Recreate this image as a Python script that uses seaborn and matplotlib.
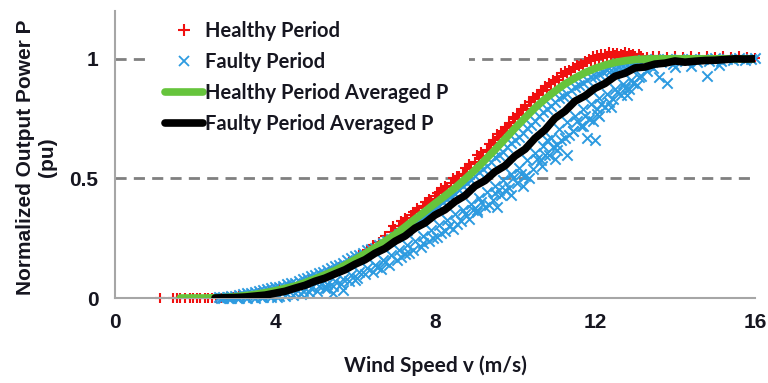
import matplotlib
matplotlib.use("Agg")
import matplotlib.pyplot as plt
from matplotlib.lines import Line2D
import seaborn as sns

sns.set_theme(style="white")
plt.rcParams["font.family"] = ["Liberation Sans", "DejaVu Sans"]

# ---------------- data ----------------
# Healthy period samples (normalised power vs wind speed)
healthy_cutin_x = [1.12, 1.45, 1.55, 1.63, 1.75, 1.88, 1.95, 2.05, 2.13, 2.25, 2.33, 2.43,
                   2.52, 2.65, 2.8, 2.95]
healthy_cutin_y = [0, 0, 0, 0, 0, 0, 0, 0, 0, 0, 0, 0, 0, 0.002, 0.003, 0.004]

healthy_low_x = [3.1, 3.35, 3.6, 3.85, 4.1, 4.35, 4.6, 4.85, 5.1, 5.35, 5.6, 5.85, 6.1, 6.3,
                 6.45, 6.6, 6.75, 6.9]
healthy_low_y = [0.008, 0.014, 0.02, 0.03, 0.038, 0.05, 0.058, 0.075, 0.09, 0.11, 0.13, 0.15,
                 0.178, 0.2, 0.22, 0.235, 0.26, 0.275]

healthy_mid_x = [7.0, 7.1, 7.2, 7.3, 7.4, 7.5, 7.6, 7.7, 7.8, 7.9,
                 8.0, 8.1, 8.2, 8.3, 8.4, 8.5, 8.6, 8.7, 8.8, 8.9,
                 9.0, 9.1, 9.2, 9.3, 9.4, 9.5, 9.6, 9.7, 9.8, 9.9,
                 10.0, 10.1, 10.2, 10.3, 10.4, 10.5, 10.6, 10.7, 10.8, 10.9,
                 11.0, 11.1, 11.2, 11.3, 11.4, 11.5, 11.6, 11.7, 11.8, 11.9,
                 12.0, 12.1, 12.2, 12.3, 12.4, 12.5, 12.6, 12.7, 12.8, 12.9]
healthy_mid_y = [0.29, 0.3, 0.318, 0.32, 0.345, 0.36, 0.365, 0.385, 0.4, 0.405,
                 0.425, 0.44, 0.445, 0.465, 0.48, 0.485, 0.51, 0.52, 0.54, 0.545,
                 0.57, 0.585, 0.595, 0.62, 0.64, 0.648, 0.675, 0.69, 0.71, 0.72,
                 0.75, 0.765, 0.785, 0.79, 0.82, 0.83, 0.85, 0.865, 0.87, 0.895,
                 0.905, 0.91, 0.93, 0.94, 0.945, 0.96, 0.97, 0.97, 0.985, 0.99,
                 0.995, 1.0, 1.005, 1.01, 1.008, 1.015, 1.01, 1.015, 1.012, 1.015]

healthy_rated_x = [13.0, 13.15, 13.3, 13.45, 13.6, 13.8, 14.0, 14.2, 14.4, 14.6, 14.8, 15.0,
                   15.2, 15.4, 15.6, 15.8, 16.0]
healthy_rated_y = [1.01, 1.012, 1.008, 1.012, 1.01, 1.008, 1.01, 1.008, 1.01, 1.008, 1.01,
                   1.008, 1.01, 1.008, 1.01, 1.008, 1.005]

healthy_high_x = [6.95, 7.25, 7.55, 7.85, 8.05, 8.25, 8.55, 8.85, 9.15, 9.45, 9.65, 9.85,
                  10.05, 10.25, 10.45, 10.65, 10.85, 11.05, 11.25, 11.45, 11.65, 11.85,
                  12.05, 12.25, 12.45, 12.65, 12.85]
healthy_high_y = [0.3, 0.335, 0.375, 0.415, 0.44, 0.47, 0.51, 0.56, 0.61, 0.66, 0.70, 0.73,
                  0.77, 0.805, 0.84, 0.87, 0.9, 0.925, 0.95, 0.965, 0.98, 1.0,
                  1.015, 1.02, 1.025, 1.02, 1.025]

healthy_top_x = [7.15, 7.45, 7.75, 8.15, 8.45, 8.75, 9.05, 9.35, 9.55, 9.75,
                 9.95, 10.15, 10.35, 10.55, 10.75, 10.95, 11.15, 11.35, 11.55, 11.75,
                 11.95, 12.15, 12.35, 12.55, 12.75, 12.95, 13.1]
healthy_top_y = [0.32, 0.36, 0.4, 0.46, 0.5, 0.545, 0.6, 0.645, 0.685, 0.715,
                 0.755, 0.79, 0.82, 0.855, 0.885, 0.91, 0.94, 0.955, 0.975, 0.99,
                 1.01, 1.02, 1.03, 1.025, 1.03, 1.02, 1.02]

# Faulty period samples
faulty_upper_x = [2.6, 2.8, 3.0, 3.2, 3.4, 3.6, 3.8, 4.0, 4.2, 4.4, 4.6, 4.8, 5.0, 5.2, 5.4,
                  5.6, 5.8, 6.0, 6.2, 6.4, 6.6, 6.8, 7.0, 7.2, 7.4, 7.6, 7.8, 8.0, 8.2, 8.4,
                  8.6, 8.8, 9.0, 9.2, 9.4, 9.6, 9.8, 10.0, 10.2, 10.4, 10.6, 10.8, 11.0, 11.2,
                  11.4, 11.6, 11.8, 12.0, 12.2, 12.4, 12.6, 12.8, 13.0]
faulty_upper_y = [0.004, 0.006, 0.01, 0.015, 0.022, 0.028, 0.036, 0.045, 0.05, 0.062, 0.07,
                  0.085, 0.098, 0.11, 0.125, 0.14, 0.158, 0.175, 0.19, 0.205, 0.22, 0.24,
                  0.255, 0.275, 0.3, 0.325, 0.35, 0.375, 0.4, 0.425, 0.45, 0.48, 0.51, 0.54,
                  0.57, 0.6, 0.63, 0.66, 0.69, 0.725, 0.76, 0.79, 0.82, 0.845, 0.87, 0.89,
                  0.91, 0.93, 0.945, 0.955, 0.965, 0.975, 0.985]

faulty_upper2_x = [2.7, 2.9, 3.1, 3.3, 3.5, 3.7, 3.9, 4.1, 4.3, 4.5,
                   4.7, 4.9, 5.1, 5.3, 5.5, 5.7, 5.9, 6.1, 6.3, 6.5,
                   6.7, 6.9, 7.1, 7.3, 7.5, 7.7, 7.9, 8.1, 8.3, 8.5,
                   8.7, 8.9, 9.1, 9.3, 9.5, 9.7, 9.9, 10.1, 10.3, 10.5,
                   10.7, 10.9, 11.1, 11.3, 11.5, 11.7, 11.9, 12.1, 12.3, 12.5,
                   12.7, 12.9, 13.1]
faulty_upper2_y = [0.005, 0.009, 0.012, 0.02, 0.024, 0.034, 0.041, 0.046, 0.058, 0.064,
                   0.08, 0.09, 0.106, 0.116, 0.135, 0.148, 0.168, 0.18, 0.2, 0.21,
                   0.232, 0.245, 0.268, 0.285, 0.315, 0.335, 0.365, 0.385, 0.415, 0.435,
                   0.468, 0.492, 0.528, 0.552, 0.588, 0.612, 0.648, 0.672, 0.71, 0.74,
                   0.778, 0.802, 0.835, 0.855, 0.882, 0.898, 0.922, 0.935, 0.952, 0.958,
                   0.972, 0.978, 0.99]

faulty_lower_x = [2.7, 2.9, 3.1, 3.3, 3.5, 3.7, 3.9, 4.1, 4.3, 4.5, 4.7, 4.9, 5.1, 5.3, 5.5,
                  5.7, 5.9, 6.1, 6.3, 6.5, 6.7, 6.9, 7.1, 7.3, 7.5, 7.7, 7.9, 8.1, 8.3, 8.5,
                  8.7, 8.9, 9.1, 9.3, 9.5, 9.7, 9.9, 10.1, 10.3, 10.5, 10.7, 10.9, 11.1, 11.3,
                  11.5, 11.7, 11.9, 12.1, 12.3, 12.5, 12.7, 12.9, 13.1]
faulty_lower_y = [0.0, 0.0, 0.0, 0.001, 0.002, 0.004, 0.006, 0.01, 0.015, 0.022, 0.03, 0.04,
                  0.05, 0.06, 0.07, 0.08, 0.095, 0.11, 0.125, 0.14, 0.16, 0.18, 0.2, 0.22,
                  0.24, 0.26, 0.285, 0.305, 0.325, 0.35, 0.37, 0.395, 0.42, 0.445, 0.47,
                  0.495, 0.52, 0.545, 0.575, 0.605, 0.635, 0.67, 0.705, 0.735, 0.76, 0.79,
                  0.81, 0.835, 0.855, 0.875, 0.895, 0.91, 0.925]

faulty_low2_x = [2.65, 2.85, 3.05, 3.25, 3.45, 3.65, 3.85, 4.05, 4.25, 4.45, 4.65, 4.85, 5.05,
                 5.25, 5.45, 5.65, 5.85, 6.05, 6.25, 6.45, 6.65, 6.85, 7.05, 7.25, 7.45, 7.65,
                 7.85, 8.05, 8.25, 8.45, 8.65, 8.85, 9.05, 9.25, 9.45, 9.65, 9.85, 10.05,
                 10.25, 10.45, 10.65, 10.85, 11.05, 11.25, 11.45, 11.65, 11.85, 12.05, 12.25,
                 12.45, 12.65, 12.85, 13.05]
faulty_low2_y = [0.0, 0.001, 0.002, 0.003, 0.005, 0.006, 0.01, 0.006, 0.008, 0.012, 0.018,
                 0.025, 0.03, 0.04, 0.05, 0.06, 0.07, 0.085, 0.1, 0.11, 0.12, 0.14, 0.16,
                 0.185, 0.2, 0.215, 0.24, 0.255, 0.28, 0.29, 0.32, 0.33, 0.36, 0.38, 0.41,
                 0.43, 0.46, 0.48, 0.51, 0.54, 0.575, 0.6, 0.64, 0.67, 0.7, 0.72, 0.75, 0.77,
                 0.8, 0.83, 0.85, 0.875, 0.89]

faulty_spread_x = [6.55, 6.75, 7.15, 7.35, 7.7, 7.95, 8.15, 8.35, 8.55, 8.75,
                   8.95, 9.15, 9.35, 9.5, 9.75, 9.95, 10.15, 10.35, 10.55, 10.75,
                   10.95, 11.15, 11.35, 11.55, 11.75, 11.95, 12.15, 12.35, 12.55, 12.75,
                   12.95, 13.15]
faulty_spread_y = [0.13, 0.15, 0.17, 0.19, 0.23, 0.25, 0.27, 0.3, 0.31, 0.35,
                   0.37, 0.4, 0.39, 0.44, 0.45, 0.5, 0.52, 0.5, 0.58, 0.6,
                   0.63, 0.66, 0.68, 0.74, 0.76, 0.74, 0.81, 0.82, 0.86, 0.88,
                   0.9, 0.93]

faulty_rated_x = [13.2, 13.3, 13.35, 13.45, 13.5, 13.65, 13.8, 13.95, 14.0, 14.1, 14.25, 14.4,
                  14.4, 14.55, 14.7, 14.85, 15.0, 15.1, 15.15, 15.3, 15.45, 15.6, 15.75, 15.9,
                  16.0]
faulty_rated_y = [0.995, 0.95, 0.975, 0.96, 1.0, 0.985, 1.0, 0.98, 0.965, 1.0, 0.99, 1.0,
                  0.97, 0.985, 1.0, 0.99, 1.005, 0.975, 0.99, 1.0, 0.995, 1.005, 0.995, 1.0,
                  1.005]

faulty_outlier_x = [5.3, 5.45, 5.7, 6.0, 9.05, 9.55, 9.6, 9.9, 10.2, 10.67, 10.8, 11.0, 11.05,
                    11.3, 11.45, 11.7, 11.8, 12.0, 12.05, 12.1, 12.4, 12.8, 13.6, 13.8, 14.8]
faulty_outlier_y = [0.04, 0.02, 0.035, 0.075, 0.37, 0.38, 0.45, 0.43, 0.47, 0.55, 0.66, 0.58,
                    0.62, 0.6, 0.7, 0.72, 0.67, 0.66, 0.79, 0.76, 0.8, 0.85, 0.925, 0.9, 0.93]

# Bin-averaged power curves
healthy_avg_x = [1.63, 2.0, 2.25, 2.5, 2.75, 3.0, 3.25, 3.5, 3.75, 4.0, 4.25, 4.5, 4.75, 5.0,
                 5.25, 5.5, 5.75, 6.0, 6.25, 6.5, 6.75, 7.0, 7.25, 7.5, 7.75, 8.0, 8.25, 8.5,
                 8.75, 9.0, 9.25, 9.5, 9.75, 10.0, 10.25, 10.5, 10.75, 11.0, 11.25, 11.5,
                 11.75, 12.0, 12.25, 12.5, 12.75, 13.0, 13.25, 13.5, 14.0, 14.5, 15.0, 15.5,
                 16.0]
healthy_avg_y = [0, 0, 0, 0.001, 0.002, 0.005, 0.01, 0.015, 0.022, 0.03, 0.04, 0.05, 0.064,
                 0.08, 0.097, 0.115, 0.137, 0.16, 0.185, 0.21, 0.237, 0.265, 0.297, 0.33,
                 0.362, 0.395, 0.427, 0.46, 0.497, 0.535, 0.577, 0.62, 0.665, 0.71, 0.753,
                 0.795, 0.832, 0.865, 0.895, 0.92, 0.942, 0.96, 0.974, 0.985, 0.992, 0.997,
                 0.999, 1.0, 1.0, 1.0, 1.0, 1.0, 1.0]

faulty_avg_x = [2.5, 2.75, 3.0, 3.25, 3.5, 3.75, 4.0, 4.25, 4.5, 4.75, 5.0, 5.25, 5.5, 5.75,
                6.0, 6.25, 6.5, 6.75, 7.0, 7.25, 7.5, 7.75, 8.0, 8.25, 8.5, 8.75, 9.0, 9.25,
                9.5, 9.75, 10.0, 10.25, 10.5, 10.75, 11.0, 11.25, 11.5, 11.75, 12.0, 12.25,
                12.5, 12.75, 13.0, 13.25, 13.5, 13.75, 14.0, 14.25, 14.5, 14.75, 15.0, 15.25,
                15.5, 15.75, 16.0]
faulty_avg_y = [0.0, 0.001, 0.002, 0.004, 0.008, 0.012, 0.02, 0.028, 0.041, 0.053, 0.07,
                0.083, 0.101, 0.118, 0.141, 0.16, 0.187, 0.207, 0.237, 0.259, 0.292, 0.314,
                0.347, 0.369, 0.403, 0.428, 0.468, 0.491, 0.528, 0.553, 0.594, 0.622, 0.668,
                0.703, 0.752, 0.781, 0.823, 0.845, 0.877, 0.897, 0.927, 0.94, 0.962, 0.966,
                0.978, 0.982, 0.991, 0.986, 0.99, 0.993, 0.994, 0.997, 1.0, 0.999, 1.0]

x_ticks = [0, 4, 8, 12, 16]
x_tick_labels = ["0", "4", "8", "12", "16"]
y_ticks = [0, 0.5, 1]
y_tick_labels = ["0", "0.5", "1"]
ref_levels = [0.5, 1.0]

series_labels = ["Healthy Period", "Faulty Period",
                 "Healthy Period Averaged P", "Faulty Period Averaged P"]

# ---------------- styling ----------------
RED = "#f01010"
BLUE = "#2d9be0"
GREEN = "#66c43c"
BLACK = "#000000"
TEXT = "#161620"

healthy_x = (healthy_cutin_x + healthy_low_x + healthy_mid_x + healthy_rated_x
             + healthy_high_x + healthy_top_x)
healthy_y = (healthy_cutin_y + healthy_low_y + healthy_mid_y + healthy_rated_y
             + healthy_high_y + healthy_top_y)
faulty_x = (faulty_upper_x + faulty_upper2_x + faulty_lower_x + faulty_low2_x
            + faulty_spread_x + faulty_rated_x + faulty_outlier_x)
faulty_y = (faulty_upper_y + faulty_upper2_y + faulty_lower_y + faulty_low2_y
            + faulty_spread_y + faulty_rated_y + faulty_outlier_y)

fig = plt.figure(figsize=(7.68, 3.83), dpi=100)
ax = fig.add_axes([115 / 768, 1 - 298 / 383, 640 / 768, 287 / 383])

for level in ref_levels:
    ax.axhline(level, color="#808080", lw=2.0, dashes=(4, 2.6), zorder=1)

sns.scatterplot(x=healthy_x, y=healthy_y, marker="+", color=RED, s=60, linewidth=1.5,
                ax=ax, zorder=2, clip_on=False, legend=False)
sns.scatterplot(x=faulty_x, y=faulty_y, marker="x", color=BLUE, s=55, linewidth=1.4,
                ax=ax, zorder=2.5, clip_on=False, legend=False)
sns.lineplot(x=healthy_avg_x, y=healthy_avg_y, color=GREEN, linewidth=5.5, sort=False,
             estimator=None, ax=ax, zorder=3, solid_capstyle="round", legend=False)
sns.lineplot(x=faulty_avg_x, y=faulty_avg_y, color=BLACK, linewidth=5.5, sort=False,
             estimator=None, ax=ax, zorder=3.5, solid_capstyle="round", legend=False)

ax.set_xlim(0, 16)
ax.set_ylim(0, 1.2)
ax.set_xticks(x_ticks)
ax.set_xticklabels(x_tick_labels)
ax.set_yticks(y_ticks)
ax.set_yticklabels(y_tick_labels)
ax.tick_params(axis="both", length=0, labelsize=15, labelcolor=TEXT)
ax.tick_params(axis="x", pad=11)
ax.tick_params(axis="y", pad=12)
for lab in ax.get_xticklabels() + ax.get_yticklabels():
    lab.set_fontweight("bold")

sns.despine(ax=ax)
for side in ("left", "bottom"):
    ax.spines[side].set_color("#a6a6a6")
    ax.spines[side].set_linewidth(1.5)

ax.set_xlabel("Wind Speed v (m/s)", fontfamily="Lato", fontweight="bold", fontsize=15,
              color=TEXT, labelpad=17)
ax.set_ylabel("Normalized Output Power P\n(pu)", fontweight="bold", fontsize=15,
              color=TEXT, linespacing=1.2)
ax.yaxis.set_label_coords(-0.09, 0.49)

handles = [
    Line2D([], [], marker="+", color=RED, linestyle="None", markersize=8, markeredgewidth=1.5),
    Line2D([], [], marker="x", color=BLUE, linestyle="None", markersize=6.5, markeredgewidth=1.3),
    Line2D([], [], color=GREEN, lw=5.5, solid_capstyle="round"),
    Line2D([], [], color=BLACK, lw=5.5, solid_capstyle="round"),
]
leg = ax.legend(handles, series_labels, loc="center", bbox_to_anchor=(0.30, 0.768),
                prop={"family": "Lato", "weight": "bold", "size": 14.5},
                frameon=True, facecolor="white", edgecolor="none", framealpha=1.0,
                fancybox=False, handlelength=1.9, handletextpad=0.1, labelspacing=0.55,
                borderpad=1.0)
for t in leg.get_texts():
    t.set_color(TEXT)
leg.set_zorder(5)

fig.savefig("out.png", dpi=100)
